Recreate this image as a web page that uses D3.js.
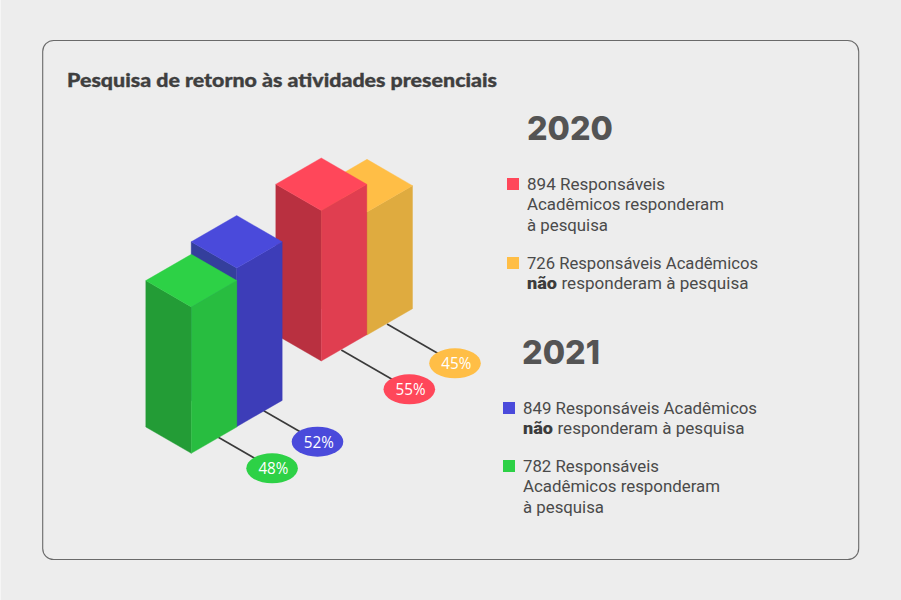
<!DOCTYPE html>
<html lang="pt">
<head>
<meta charset="utf-8">
<script src="https://cdn.jsdelivr.net/npm/d3@7"></script>
<style>
html,body{margin:0;padding:0;background:#ededed;}
svg{display:block;}
</style>
</head>
<body>
<svg id="chart" width="901" height="600"></svg>
<script>
const titleText = "Pesquisa de retorno às atividades presenciais";
const years = ["2020", "2021"];
const seriesNames = ["2020 não", "2020 sim", "2021 não", "2021 sim"];
const seriesYears = ["2020", "2020", "2021", "2021"];
const percents = [45, 55, 52, 48];
const respondents = [726, 894, 849, 782];
const colorsTop = ["#ffbe46", "#ff475a", "#4a4adb", "#2dd146"];
const colorsLeft = ["#c99632", "#b93040", "#343f9c", "#239c36"];
const colorsRight = ["#dfab3f", "#e03e50", "#3d3db8", "#28bd40"];
const legendLines = [
  [["", "726 Responsáveis Acadêmicos"], ["não", " responderam à pesquisa"]],
  [["", "894 Responsáveis"], ["", "Acadêmicos responderam"], ["", "à pesquisa"]],
  [["", "849 Responsáveis Acadêmicos"], ["não", " responderam à pesquisa"]],
  [["", "782 Responsáveis"], ["", "Acadêmicos responderam"], ["", "à pesquisa"]]
];
const legendOrder = [1, 0, 2, 3];

const svg = d3.select("#chart");
svg.append("rect").attr("width", 901).attr("height", 600).attr("fill", "#ededed");
svg.append("rect").attr("width", 1).attr("height", 600).attr("fill", "#f6f6f6");
svg.append("rect").attr("x", 42.7).attr("y", 40.5).attr("width", 816).attr("height", 519)
  .attr("rx", 11).attr("fill", "none").attr("stroke", "#6a6a6a").attr("stroke-width", 1.1);

svg.append("text").attr("x", 67).attr("y", 87).text(titleText)
  .attr("font-family", "Lato, sans-serif").attr("font-weight", 900).attr("font-size", 19)
  .attr("fill", "#3f3f3f").attr("stroke", "#3f3f3f").attr("stroke-width", 0.35)
  .attr("textLength", 430).attr("lengthAdjust", "spacingAndGlyphs");

// isometric layout
const hx = 45.5, hy = 26.3;
const heightScale = {
  "2020": d3.scaleLinear().domain([0, 100]).range([0, 273.5]),
  "2021": d3.scaleLinear().domain([0, 100]).range([0, 305])
};
const frontX = d3.scaleOrdinal().domain(seriesNames).range([367, 321.3, 236.7, 191.3]);
const frontY = d3.scaleOrdinal().domain(seriesNames).range([335, 361, 426.7, 453.3]);
const leaderStart = { "2020": [20, -11], "2021": [27, -16] };
const leaderEnd = { "2020": [88, 28.3], "2021": [80.8, 15] };

const path = pts => d3.line()(pts) + "Z";
const bars = svg.append("g");
const rows = seriesNames.map((name, i) => ({
  name, i, year: seriesYears[i], pct: percents[i],
  fx: frontX(name), fy: frontY(name), h: heightScale[seriesYears[i]](percents[i])
}));

// leader lines and badges below the bars
rows.forEach(d => {
  const s = leaderStart[d.year], e = leaderEnd[d.year];
  d.cx = d.fx + e[0]; d.cy = d.fy + e[1];
  bars.append("line").attr("x1", d.fx + s[0]).attr("y1", d.fy + s[1]).attr("x2", d.cx).attr("y2", d.cy)
    .attr("stroke", "#3a3a3a").attr("stroke-width", 1.6);
});
rows.forEach(d => {
  const t = d.fy - d.h;
  const g = bars.append("g").attr("stroke-width", 0.4);
  g.append("path").attr("fill", colorsLeft[d.i]).attr("stroke", colorsLeft[d.i])
    .attr("d", path([[d.fx - hx, d.fy - hy], [d.fx, d.fy], [d.fx, t], [d.fx - hx, t - hy]]));
  g.append("path").attr("fill", colorsRight[d.i]).attr("stroke", colorsRight[d.i])
    .attr("d", path([[d.fx + hx, d.fy - hy], [d.fx, d.fy], [d.fx, t], [d.fx + hx, t - hy]]));
  g.append("path").attr("fill", colorsTop[d.i]).attr("stroke", colorsTop[d.i])
    .attr("d", path([[d.fx, t], [d.fx + hx, t - hy], [d.fx, t - 2 * hy], [d.fx - hx, t - hy]]));
});
rows.forEach(d => {
  bars.append("ellipse").attr("cx", d.cx).attr("cy", d.cy).attr("rx", 25.8).attr("ry", 15)
    .attr("fill", colorsTop[d.i]);
  bars.append("text").attr("x", d.cx + 1.3).attr("y", d.cy + 5.8).attr("text-anchor", "middle")
    .attr("font-family", "'Open Sans', sans-serif").attr("font-size", 16).attr("fill", "#fff")
    .attr("textLength", 30).attr("lengthAdjust", "spacingAndGlyphs")
    .text(d.pct + "%");
});

// headings
const headPos = { "2020": [527, 140], "2021": [522, 364] };
const headLen = { "2020": 86, "2021": 78 };
years.forEach(y => {
  svg.append("text").attr("x", headPos[y][0]).attr("y", headPos[y][1]).text(y)
    .attr("font-family", "Inter, sans-serif").attr("font-weight", 800).attr("font-size", 33)
    .attr("fill", "#545454").attr("textLength", headLen[y]).attr("lengthAdjust", "spacingAndGlyphs");
});

// legend
const legX = [527, 527, 523, 523];
const legY = [190, 269, 414, 472];
const lineH = [20.3, 20, 20, 20.3];
const legendWidths = {
  "894 Responsáveis": 138, "Acadêmicos responderam": 197, "à pesquisa": 81,
  "726 Responsáveis Acadêmicos": 231, "849 Responsáveis Acadêmicos": 234, "782 Responsáveis": 136,
  " responderam à pesquisa": 187
};
legendOrder.forEach((seriesIdx, n) => {
  const x = legX[n], y0 = legY[n];
  svg.append("rect").attr("x", x - 20).attr("y", y0 - 12).attr("width", 12).attr("height", 12)
    .attr("fill", colorsTop[seriesIdx]);
  legendLines[seriesIdx].forEach((ln, k) => {
    const y = y0 + k * lineH[n];
    let tx = x;
    if (ln[0]) {
      svg.append("text").attr("x", tx).attr("y", y).text(ln[0])
        .attr("font-family", "Roboto, sans-serif").attr("font-weight", 900).attr("font-size", 16)
        .attr("fill", "#3c3c3c").attr("textLength", 30).attr("lengthAdjust", "spacingAndGlyphs");
      tx += 30;
    }
    const s = ln[1];
    svg.append("text").attr("x", tx + (ln[0] ? 4.5 : 0)).attr("y", y).text(s.trim())
      .attr("font-family", "Roboto, sans-serif").attr("font-weight", 400).attr("font-size", 16)
      .attr("fill", "#4a4a4a")
      .attr("textLength", (legendWidths[s] || 200)).attr("lengthAdjust", "spacingAndGlyphs");
  });
});
</script>
</body>
</html>
